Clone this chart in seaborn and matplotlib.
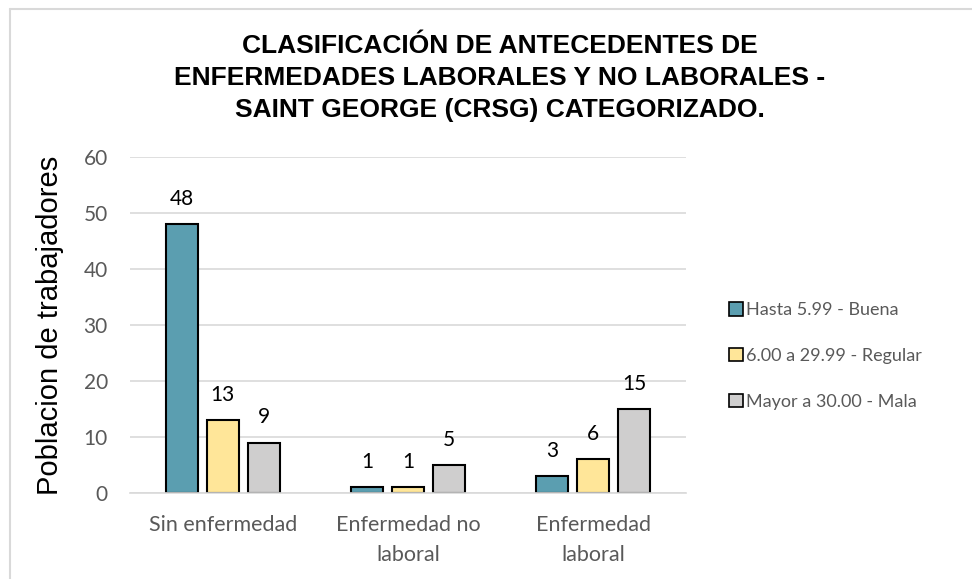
import matplotlib
matplotlib.use("Agg")
import matplotlib.pyplot as plt
import seaborn as sns
import pandas as pd
from matplotlib.lines import Line2D
from matplotlib.patches import Patch

categorias = ["Sin enfermedad", "Enfermedad no\nlaboral", "Enfermedad\nlaboral"]
series = ["Hasta 5.99 - Buena", "6.00 a 29.99 - Regular", "Mayor a 30.00 - Mala"]
buena = [48, 1, 3]
regular = [13, 1, 6]
mala = [9, 5, 15]
colores = ["#5B9EB0", "#FFE699", "#CFCECE"]
yticks = [0, 10, 20, 30, 40, 50, 60]

df = pd.DataFrame({
    "categoria": categorias * 3,
    "serie": [series[0]] * 3 + [series[1]] * 3 + [series[2]] * 3,
    "valor": buena + regular + mala,
})

sns.set_theme(style="white")
plt.rcParams["font.family"] = ["Lato", "DejaVu Sans"]

fig = plt.figure(figsize=(9.72, 5.79), dpi=100)
ax = fig.add_axes([130 / 972, 1 - 493 / 579, (686 - 130) / 972, (493 - 157) / 579])

sns.barplot(data=df, x="categoria", y="valor", hue="serie", order=categorias,
            hue_order=series, palette=colores, saturation=1, width=0.665, gap=0.22,
            edgecolor="black", linewidth=1.5, ax=ax, legend=False)

for cont in ax.containers:
    ax.bar_label(cont, padding=11, fontsize=15, color="black")

ax.set_ylim(0, 60)
ax.set_xlim(-0.5, 2.5)
ax.set_yticks(yticks)
ax.yaxis.grid(True, color="#D9D9D9", linewidth=1.2)
ax.set_axisbelow(True)
for s in ["top", "right", "left"]:
    ax.spines[s].set_visible(False)
ax.spines["bottom"].set_color("#D9D9D9")
ax.spines["bottom"].set_linewidth(1.2)
ax.tick_params(axis="y", length=0, labelsize=15, colors="#595959", pad=16)
ax.tick_params(axis="x", length=0, labelsize=15.5, colors="#595959", pad=16)
for lab in ax.get_xticklabels():
    lab.set_linespacing(1.6)
ax.set_xlabel("")
ax.set_ylabel("Poblacion de trabajadores", fontsize=21, color="black",
              family=["Liberation Sans", "DejaVu Sans"], labelpad=14)

handles = [Patch(facecolor=c, edgecolor="black", linewidth=1.2) for c in colores]
leg = fig.legend(handles, series, loc="center left", bbox_to_anchor=(722 / 972, 1 - 356 / 579),
                 frameon=False, fontsize=13, handlelength=0.75, handleheight=0.75,
                 handletextpad=0.2, labelspacing=1.65, borderaxespad=0)
for t in leg.get_texts():
    t.set_color("#595959")

fig.text(500 / 972, 1 - 78 / 579,
         "CLASIFICACIÓN DE ANTECEDENTES DE\nENFERMEDADES LABORALES Y NO LABORALES -\nSAINT GEORGE (CRSG) CATEGORIZADO.",
         ha="center", va="center", fontsize=19, fontweight="bold", linespacing=1.42,
         family=["Liberation Sans", "DejaVu Sans"], color="black")

# chart frame
fig.add_artist(Line2D([10 / 972, 10 / 972], [0, 1 - 9 / 579], transform=fig.transFigure,
                      color="#D9D9D9", linewidth=1.5))
fig.add_artist(Line2D([10 / 972, 1], [1 - 9 / 579, 1 - 9 / 579], transform=fig.transFigure,
                      color="#D9D9D9", linewidth=1.5))

fig.savefig("out.png", dpi=100)
